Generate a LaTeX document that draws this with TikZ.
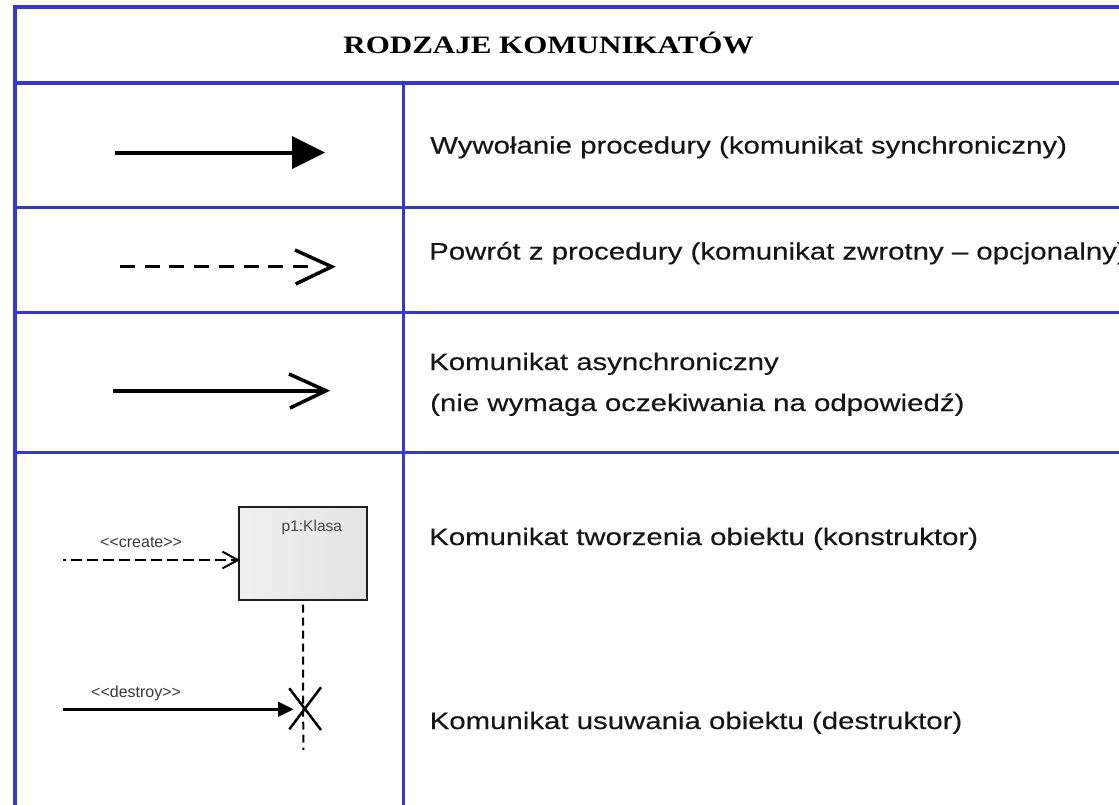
\documentclass[tikz,border=0pt]{standalone}
\usepackage{fontspec}
\setmainfont{Liberation Sans}
\newfontfamily\bodyfont[FakeStretch=1.235,FakeBold=0.3]{Liberation Sans}
\newfontfamily\headfont[FakeStretch=1.24]{Liberation Serif}
\newfontfamily\tagfont{Liberation Sans}
\definecolor{rulecol}{RGB}{55,55,205}
\definecolor{ink}{RGB}{22,22,22}
\definecolor{boxline}{RGB}{30,30,30}
\tikzset{
  thickrule/.style={draw=rulecol, line width=4pt},
  thinrule/.style={draw=rulecol, line width=3pt},
  colrule/.style={draw=rulecol, line width=2.5pt},
  heading/.style={font=\headfont\bfseries\fontsize{25}{30}\selectfont, text=black, inner sep=0pt, anchor=base},
  desc/.style={font=\bodyfont\fontsize{23.8}{28}\selectfont, text=ink, inner sep=0pt, anchor=base west},
  tag/.style={font=\tagfont\fontsize{16}{19}\selectfont, text=black!78, inner sep=0pt, anchor=base west},
  msgline/.style={draw=black, line width=4pt},
  retline/.style={draw=black, line width=3.5pt, dash pattern=on 15pt off 9.7pt},
  openhead/.style={draw=black, line width=3.5pt, line join=miter},
  filledhead/.style={fill=black},
  createline/.style={draw=black, line width=2pt, dash pattern=on 11pt off 5pt, dash phase=8pt},
  smallhead/.style={draw=black, line width=2pt},
  lifeline/.style={draw=black, line width=2pt, dash pattern=on 8pt off 5pt},
  objbox/.style={draw=boxline, line width=2pt, minimum width=128pt, minimum height=92.6pt,
                 left color=gray!12, middle color=gray!6, right color=gray!22, inner sep=0pt},
  crossmark/.style={draw=black, line width=2.5pt},
}
\begin{document}
\begin{tikzpicture}[x=1pt,y=-1pt]
\useasboundingbox (0,0) rectangle (1119,804);
\clip (0,0) rectangle (1119,804);
\fill[white] (0,0) rectangle (1119,804);

% table rules
\draw[thickrule] (12.5,7) -- (1125,7);
\draw[thickrule] (14.5,5) -- (14.5,810);
\draw[thickrule] (14.5,83) -- (1125,83);
\draw[colrule] (403.3,83) -- (403.3,810);
\draw[thinrule] (14.5,207) -- (1125,207);
\draw[thinrule] (14.5,312.5) -- (1125,312.5);
\draw[thinrule] (14.5,452.5) -- (1125,452.5);

% heading
\node[heading] (title) at (548.5,53.3) {RODZAJE KOMUNIKATÓW};

% descriptions
\node[desc] (d1) at (430,153.5) {Wywołanie procedury (komunikat synchroniczny)};
\node[desc] (d2) at (429,259.5) {Powrót z procedury (komunikat zwrotny – opcjonalny)};
\node[desc] (d3a) at (429,370) {Komunikat asynchroniczny};
\node[desc] (d3b) at (430,411) {(nie wymaga oczekiwania na odpowiedź)};
\node[desc] (d4) at (429,545) {Komunikat tworzenia obiektu (konstruktor)};
\node[desc] (d5) at (429.5,729) {Komunikat usuwania obiektu (destruktor)};

% synchronous call
\coordinate (s1) at (115,152.5);
\coordinate (e1) at (325,152.5);
\draw[msgline] (s1) -- ([xshift=-30pt]e1);
\fill[filledhead] (e1) -- ++(-33,-16.5) -- ++(0,33) -- cycle;

% return message
\coordinate (s2) at (120,266.7);
\coordinate (e2) at (331.7,266.7);
\draw[retline] (s2) -- ([xshift=-24pt]e2);
\draw[openhead] (e2) ++(-36.7,-16.7) -- (e2) -- ++(-36,17.3);

% asynchronous message
\coordinate (s3) at (113,390.7);
\coordinate (e3) at (326,390.7);
\draw[msgline] (s3) -- ([xshift=-1.5pt]e3);
\draw[openhead] (e3) ++(-37,-16.7) -- (e3) -- ++(-36,17.3);

% object creation
\node[objbox] (obj) at (303,553.3) {};
\node[tag, text=black!72, font=\tagfont\fontsize{15.5}{18}\selectfont] (objname) at (281.5,531.7) {p1:Klasa};
\coordinate (s4) at (63,560);
\draw[createline] (s4) -- (obj.west |- s4);
\draw[smallhead] (obj.west |- s4) ++(-15.5,-8.3) -- (obj.west |- s4) -- ++(-15.5,8.3);
\node[tag] (createtag) at (100,547) {<<create>>};

% lifeline and destruction
\coordinate (xmark) at (305,709);
\coordinate (lifeend) at (303.3,750);
\draw[lifeline] ([yshift=-4pt]obj.south) -- (lifeend);
\coordinate (s5) at (63,709.3);
\draw[msgline, line width=3pt] (s5) -- ([xshift=-25pt]xmark |- s5);
\fill[filledhead] ([xshift=-11.5pt]xmark |- s5) -- ++(-15.5,-7.8) -- ++(0,15.6) -- cycle;
\draw[crossmark] (xmark) ++(-15.7,-20.7) -- ++(31.7,41.7);
\draw[crossmark] (xmark) ++(16,-21.7) -- ++(-31.7,42);
\node[tag] (destroytag) at (91,697) {<<destroy>>};
\end{tikzpicture}
\end{document}
